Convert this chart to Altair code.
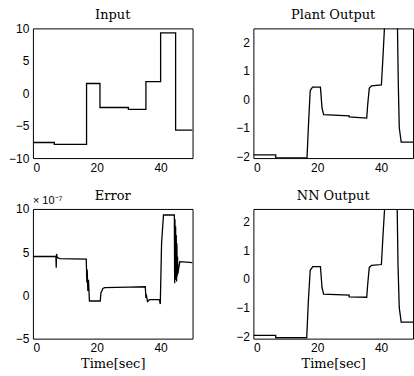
import altair as alt
import pandas as pd

# ---- data ----
t_input = [0, 6.7, 6.7, 16.8, 16.8, 21, 21, 29.9, 29.9, 35.4, 35.4, 40, 40, 44.7, 44.7, 50]
v_input = [-7.6, -7.6, -7.9, -7.9, 1.5, 1.5, -2.2, -2.2, -2.5, -2.5, 1.8, 1.8, 9.3, 9.3, -5.7, -5.7]

t_plant = [0, 7, 7, 16.8, 17.3, 17.8, 18.5, 21, 21.5, 22, 30, 30, 35.5, 35.8, 36.3, 37, 40.1, 40.6, 41.2, 45.1, 45.4, 45.7, 46.3, 50]
v_plant = [-1.95, -1.95, -2.05, -2.05, -0.8, 0.3, 0.42, 0.42, -0.3, -0.54, -0.58, -0.62, -0.66, -0.2, 0.38, 0.47, 0.5, 1.5, 2.8, 2.8, 0.5, -1.0, -1.5, -1.5]

t_error = [0, 7.2, 7.3, 7.4, 7.6, 8.3, 16.7, 16.9, 17.0, 17.2, 17.4, 17.7, 21.1, 21.3, 21.6, 21.9, 22.5, 30,
           35.2, 35.4, 35.6, 35.9, 36.5, 39.6, 39.9, 40.3, 40.9, 44.3, 44.4, 44.5, 44.6, 44.7, 44.8, 44.9,
           45.0, 45.1, 45.2, 45.3, 45.4, 46, 50]
v_error = [4.5, 4.5, 3.2, 4.8, 4.4, 4.25, 4.2, 1.5, 3.0, 0.5, 1.8, -0.65, -0.65, 0.3, 0.5, 0.8, 0.9, 0.95,
           1.0, -0.3, -0.1, -0.7, -0.5, -0.5, -1.0, 6.0, 9.3, 9.3, 1.4, 8.8, 1.8, 8.0, 2.0, 7.0,
           1.6, 6.0, 2.2, 4.5, 2.5, 3.9, 3.8]

t_nn = [0, 7, 7, 16.7, 17.2, 17.8, 18.6, 21, 21.5, 22, 30, 30, 35.5, 35.8, 36.3, 37, 40.1, 40.6, 41.3, 45.0, 45.3, 45.7, 46.3, 50]
v_nn = [-1.95, -1.95, -2.03, -2.03, -0.8, 0.3, 0.43, 0.43, -0.3, -0.52, -0.56, -0.62, -0.63, -0.2, 0.4, 0.47, 0.5, 1.5, 2.8, 2.8, 0.5, -1.0, -1.49, -1.49]

titles = ["Input", "Plant Output", "Error", "NN Output"]
x_ticks = [0, 20, 40]
y_ticks_input = [-10, -5, 0, 5, 10]
y_ticks_out = [-2, -1, 0, 1, 2]
y_ticks_error = [-5, 0, 5, 10]
error_scale_label = ["× 10⁻⁷"]
x_title = "Time[sec]"

SERIF = "DejaVu Serif"
SANS = "Liberation Sans"


def panel(t, v, title, ydom, yticks, title_dy, xtitle=None):
    df = pd.DataFrame({"t": t, "v": v, "i": list(range(len(t)))})
    if xtitle:
        xaxis = alt.Axis(values=x_ticks, title=xtitle)
    else:
        xaxis = alt.Axis(values=x_ticks, title=None)
    return alt.Chart(df, title=alt.TitleParams(title, frame="group", dy=title_dy)).mark_line(
        color="black", strokeWidth=1.3, clip=True, interpolate="linear"
    ).encode(
        x=alt.X("t:Q", scale=alt.Scale(domain=[0, 50], nice=False, zero=False), axis=xaxis),
        y=alt.Y("v:Q", scale=alt.Scale(domain=ydom, nice=False, zero=False),
                axis=alt.Axis(values=yticks, title=None)),
        order="i:Q",
    ).properties(width=160, height=130)


p1 = panel(t_input, v_input, titles[0], [-10, 10], y_ticks_input, 5)
p2 = panel(t_plant, v_plant, titles[1], [-2.06, 2.48], y_ticks_out, -1)
p3_line = panel(t_error, v_error, titles[2], [-5, 10], y_ticks_error, 13, x_title)
p3_text = alt.Chart(pd.DataFrame({"s": error_scale_label})).mark_text(
    align="left", baseline="bottom", font=SANS, fontSize=11, color="black"
).encode(x=alt.value(0), y=alt.value(-3), text="s:N")
p3 = alt.layer(p3_line, p3_text)
p4 = panel(t_nn, v_nn, titles[3], [-2.06, 2.42], y_ticks_out, -1, x_title)

chart = alt.concat(
    p1, p2, p3, p4,
    columns=2,
    spacing={"row": 51, "column": 61},
    bounds="flush",
).properties(
    padding={"left": 8, "top": 8, "right": 0, "bottom": 0},
    background="white",
).configure_view(
    stroke="black", strokeWidth=1
).configure_axis(
    domain=False, ticks=False, grid=False,
    labelFont=SANS, labelFontSize=12, labelColor="black", labelPadding=4,
    titleFont=SERIF, titleFontSize=13, titleFontWeight="normal", titleColor="black",
    titlePadding=4,
).configure_axisY(
    minExtent=24, maxExtent=24
).configure_title(
    font=SERIF, fontSize=13, fontWeight="normal", color="black", anchor="middle",
    offset=5, baseline="bottom"
)

chart.save("out.html", embed_options={"renderer": "svg", "actions": False})
